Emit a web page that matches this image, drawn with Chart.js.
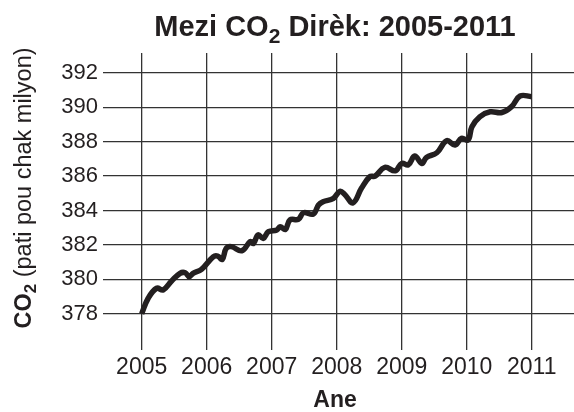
<!DOCTYPE html>
<html lang="ht">
<head>
  <meta charset="UTF-8" />
  <title>Mezi CO2 Dirèk: 2005-2011</title>
  <script src="https://cdn.jsdelivr.net/npm/chart.js"></script>
  <style>
    * { box-sizing: border-box; }
    body { margin: 0; background: #fff; }
    .wrap { width: 574px; height: 412px; }
  </style>
</head>
<body>
  <div class="wrap"><canvas id="co2-chart" width="574" height="412"></canvas></div>

  <script>
    // valè li sou grafik la (ane, ppm)
    const years = [
      2005.00, 2005.10, 2005.23, 2005.33, 2005.46, 2005.59, 2005.67, 2005.73, 2005.79, 2005.92,
      2006.10, 2006.17, 2006.24, 2006.30, 2006.38, 2006.54, 2006.67, 2006.72, 2006.79, 2006.87,
      2006.95, 2007.08, 2007.13, 2007.21, 2007.28, 2007.41, 2007.49, 2007.64, 2007.72, 2007.79,
      2007.95, 2008.05, 2008.12, 2008.25, 2008.38, 2008.51, 2008.59, 2008.74, 2008.90, 2009.00,
      2009.10, 2009.20, 2009.31, 2009.38, 2009.54, 2009.69, 2009.82, 2009.92, 2010.02, 2010.08,
      2010.20, 2010.36, 2010.54, 2010.69, 2010.82, 2011.00
    ];
    const co2 = [
      378.00, 378.90, 379.48, 379.38, 379.90, 380.35, 380.38, 380.15, 380.35, 380.58,
      381.31, 381.35, 381.16, 381.80, 381.90, 381.66, 382.19, 382.09, 382.58, 382.38,
      382.77, 382.87, 383.06, 382.90, 383.45, 383.49, 383.87, 383.80, 384.32, 384.51,
      384.71, 385.12, 384.95, 384.45, 385.29, 385.97, 386.00, 386.51, 386.31, 386.74,
      386.65, 387.17, 386.74, 387.09, 387.36, 388.06, 387.81, 388.20, 388.10, 388.87,
      389.45, 389.74, 389.70, 390.04, 390.66, 390.62
    ];
    const yearTicks = [2005, 2006, 2007, 2008, 2009, 2010, 2011];
    const ppmTicks = [378, 380, 382, 384, 386, 388, 390, 392];

    const ink = '#231f20';
    const fontFam = '"Liberation Sans", Arial, sans-serif';

    // ekri yon liy tèks ak pati ki gen endis (CO2)
    function drawParts(ctx, parts, x, y) {
      let cx = x;
      parts.forEach(p => {
        ctx.font = (p.bold ? 'bold ' : '') + p.size + 'px ' + fontFam;
        ctx.fillText(p.text, cx, y + (p.dy || 0));
        cx += ctx.measureText(p.text).width;
      });
      return cx - x;
    }
    function partsWidth(ctx, parts) {
      let w = 0;
      parts.forEach(p => {
        ctx.font = (p.bold ? 'bold ' : '') + p.size + 'px ' + fontFam;
        w += ctx.measureText(p.text).width;
      });
      return w;
    }

    const labelsPlugin = {
      id: 'labels',
      afterDraw(chart) {
        const ctx = chart.ctx;
        ctx.save();
        ctx.fillStyle = ink;
        ctx.textBaseline = 'alphabetic';
        ctx.textAlign = 'left';

        const title = [
          { text: 'Mezi CO', bold: true, size: 29 },
          { text: '2', bold: true, size: 21, dy: 7 },
          { text: ' Dirèk: 2005-2011', bold: true, size: 29 }
        ];
        const tw = partsWidth(ctx, title);
        drawParts(ctx, title, 335 - tw / 2, 36);

        const xTitle = [{ text: 'Ane', bold: true, size: 23 }];
        const xw = partsWidth(ctx, xTitle);
        drawParts(ctx, xTitle, 335 - xw / 2, 407);

        const yTitle = [
          { text: 'CO', bold: true, size: 23.5 },
          { text: '2', bold: true, size: 17, dy: 5 },
          { text: ' (pati pou chak milyon)', bold: false, size: 23.5 }
        ];
        const yw = partsWidth(ctx, yTitle);
        ctx.translate(31, 188);
        ctx.rotate(-Math.PI / 2);
        drawParts(ctx, yTitle, -yw / 2, 0);
        ctx.restore();
      }
    };

    const ctx = document.getElementById('co2-chart').getContext('2d');
    new Chart(ctx, {
      type: 'line',
      data: {
        datasets: [{
          data: years.map((y, i) => ({ x: y, y: co2[i] })),
          borderColor: ink,
          borderWidth: 5.5,
          pointRadius: 0,
          tension: 0.4,
          fill: false
        }]
      },
      options: {
        responsive: false,
        animation: false,
        layout: { padding: { top: 53, right: 0, left: 0, bottom: 0 } },
        plugins: { legend: { display: false }, tooltip: { enabled: false }, title: { display: false } },
        scales: {
          x: {
            type: 'linear',
            min: 2004.405,
            max: 2011.65,
            afterBuildTicks: s => { s.ticks = yearTicks.map(v => ({ value: v })); },
            afterFit: s => { s.height = 62; },
            grid: { color: '#333', lineWidth: 1.3, drawTicks: false },
            border: { display: false },
            ticks: {
              color: ink,
              padding: 4,
              maxRotation: 0,
              autoSkip: false,
              font: { family: fontFam, size: 23 },
              callback: v => String(v)
            }
          },
          y: {
            min: 375.89,
            max: 393.16,
            afterBuildTicks: s => { s.ticks = ppmTicks.map(v => ({ value: v })); },
            afterFit: s => { s.width = 103; },
            grid: { color: '#333', lineWidth: 1.3, drawTicks: false },
            border: { display: false },
            ticks: {
              color: ink,
              padding: 5,
              font: { family: fontFam, size: 22 },
              callback: v => String(v)
            }
          }
        }
      },
      plugins: [labelsPlugin]
    });
  </script>
</body>
</html>
